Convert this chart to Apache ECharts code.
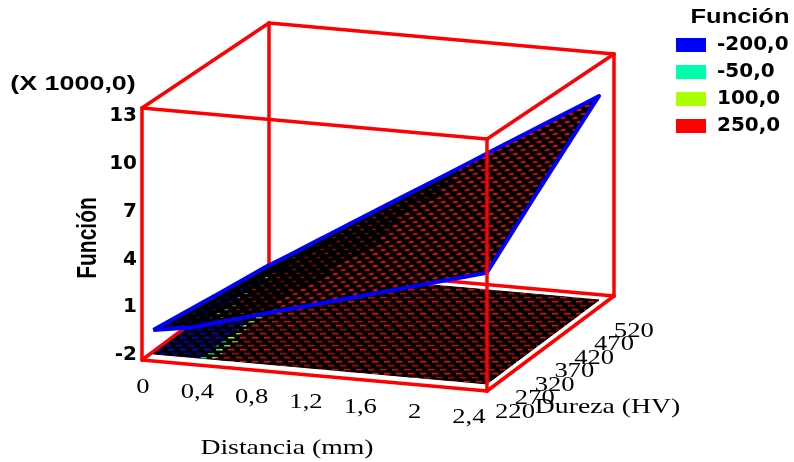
<!DOCTYPE html>
<html><head><meta charset="utf-8">
<style>html,body{margin:0;padding:0;background:#fff}#c{width:794px;height:462px}</style>
<script src="https://cdn.jsdelivr.net/npm/echarts@6/dist/echarts.min.js"></script>
</head><body><div id="c"></div>
<script>
// ---- data ----
const distanceTicks = ['0','0,4','0,8','1,2','1,6','2','2,4'];
const distanceTickValues = [0,0.4,0.8,1.2,1.6,2,2.4];
const hardnessTicks = [220,270,320,370,420,470,520];
const functionTicks = [-2,1,4,7,10,13];
const legendNames = ['-200,0','-50,0','100,0','250,0'];
const legendColors = ['#0000ff','#00ffaa','#aaff00','#ff0000'];
const bandLimits = [-0.125,0.025,0.175];   // thousands
const distances = [0.02,0.1,0.2,0.3,0.35,0.4,0.45,0.5,0.6,0.8,1.0,1.2,1.4,1.6,1.8,2.0,2.2,2.34];
const hardness = [240,300,350,400,450,505];
const z240 = [-0.57,-0.46,-0.33,-0.19,-0.06,0.07,0.19,0.31,0.54,1.01,1.48,1.95,2.42,2.89,3.36,3.83,4.30,4.63];
const z300 = [-0.85,-0.67,-0.45,-0.22,-0.06,0.10,0.26,0.41,0.71,1.32,1.92,2.53,3.13,3.74,4.35,4.95,5.56,5.98];
const z350 = [-1.09,-0.85,-0.55,-0.24,-0.06,0.13,0.31,0.49,0.85,1.57,2.29,3.01,3.73,4.45,5.17,5.89,6.61,7.12];
const z400 = [-1.33,-1.02,-0.65,-0.27,-0.05,0.16,0.37,0.58,0.99,1.83,2.66,3.49,4.32,5.16,5.99,6.83,7.66,8.25];
const z450 = [-1.56,-1.20,-0.75,-0.29,-0.05,0.19,0.42,0.66,1.13,2.08,3.02,3.97,4.91,5.87,6.81,7.76,8.70,9.37];
const z505 = [-1.82,-1.39,-0.86,-0.32,-0.05,0.22,0.48,0.75,1.29,2.36,3.43,4.50,5.57,6.65,7.72,8.79,9.86,10.62];
const zRows = [z240,z300,z350,z400,z450,z505];

const X_MIN=0,X_MAX=2.4,H_MIN=220,H_MAX=520,Z_MIN=-2,Z_MAX=13;

// oblique projection on top of the library's own x / z scales
function project(api,x,h,z){
  const p=api.coord([x,z]);
  const t=(h-H_MIN)/(H_MAX-H_MIN), u=(x-X_MIN)/(X_MAX-X_MIN), k=(z-Z_MIN)/(Z_MAX-Z_MIN);
  return [p[0]+127*t, p[1]+31*u-95*t+10*t*k];
}

// mesh-look textures
function tile(color,kind){
  const c=document.createElement('canvas');
  const W=kind==='dark'?24:12,H=12;
  c.width=W;c.height=H;
  const g=c.getContext('2d');
  g.fillStyle='#000';g.fillRect(0,0,W,H);
  g.fillStyle=color;
  const dash=(x,y,l,h,s)=>{g.beginPath();g.moveTo(x,y+h);g.lineTo(x+s,y);g.lineTo(x+s+l,y);g.lineTo(x+l,y+h);g.closePath();g.fill();};
  const rows=[[0,1],[4,5],[8,9]];
  rows.forEach(([ox,y],i)=>{
    const put=(l,h,s)=>{dash(ox,y,l,h,s);dash(ox-W,y,l,h,s);};
    if(kind==='floor'){ g.globalAlpha=[1,.7,.85][i]; put(6.5,1.5,0); }
    if(kind==='bright'){ g.globalAlpha=[1,.85,.95][i]; put(4.5,2,2); }
    if(kind==='mid'){ g.globalAlpha=[.75,.55,.65][i]; put(3.5,1.3,1); }
    if(kind==='dark'){ g.globalAlpha=.3; put(3,1.1,1); }
  });
  return c;
}
const patterns={};
legendColors.forEach(col=>{patterns[col]={};['floor','bright','mid','dark'].forEach(k=>{patterns[col][k]={image:tile(col,k),repeat:'repeat'};});});

function band(v){let i=0;while(i<bandLimits.length&&v>=bandLimits[i])i++;return i;}

// cells for each band
const cellsByBand=legendNames.map(()=>[]);
for(let j=0;j<hardness.length-1;j++){
  for(let i=0;i<distances.length-1;i++){
    const a=zRows[j][i],b=zRows[j][i+1],c=zRows[j+1][i+1],d=zRows[j+1][i];
    cellsByBand[band((a+b+c+d)/4)].push([distances[i],distances[i+1],hardness[j],hardness[j+1],a,b,c,d]);
  }
}
function area(p){let s=0;for(let i=0;i<4;i++){const q=p[(i+1)%4];s+=p[i][0]*q[1]-q[0]*p[i][1];}return Math.abs(s)/2;}

const cellSeries=legendNames.map((name,n)=>({
  name,type:'custom',coordinateSystem:'cartesian2d',xAxisIndex:0,yAxisIndex:0,
  silent:true,clip:false,z:2,animation:false,
  itemStyle:{color:legendColors[n]},
  data:cellsByBand[n],
  renderItem(params,api){
    const x0=api.value(0),x1=api.value(1),h0=api.value(2),h1=api.value(3);
    const zs=[api.value(4),api.value(5),api.value(6),api.value(7)];
    const col=legendColors[n];
    const fl=[[x0,h0],[x1,h0],[x1,h1],[x0,h1]].map(q=>project(api,q[0],q[1],Z_MIN));
    const su=[[x0,h0],[x1,h0],[x1,h1],[x0,h1]].map((q,i)=>project(api,q[0],q[1],zs[i]));
    const ratio=area(su)/((x1-x0)/2.4*(h1-h0)/300)/36712;
    const kind=ratio>0.85?'bright':(ratio>0.45?'mid':'dark');
    return {type:'group',children:[
      {type:'polygon',z2:1,shape:{points:fl},style:{fill:patterns[col].floor,stroke:patterns[col].floor,lineWidth:1}},
      {type:'polygon',z2:2,shape:{points:su},style:{fill:patterns[col][kind],stroke:patterns[col][kind],lineWidth:1}}
    ]};
  }
}));

// box edges: [x0,h0,z0,x1,h1,z1]
const backEdges=[
  [0,220,-2,0,520,-2],[0,520,-2,2.4,520,-2],[0,520,-2,0,520,13],[2.4,520,-2,2.4,520,13],[2.4,220,-2,2.4,520,-2],
  [0,520,13,2.4,520,13],[0,220,13,0,520,13],[2.4,220,13,2.4,520,13],[0,220,13,2.4,220,13],[0,220,-2,0,220,13],[0,220,-2,2.4,220,-2]
];
const frontEdges=[[2.4,220,-2,2.4,220,13]];
function edgeSeries(data,z){
  return {type:'custom',coordinateSystem:'cartesian2d',xAxisIndex:0,yAxisIndex:0,silent:true,clip:false,z,animation:false,data,
    renderItem(p,api){
      const a=project(api,api.value(0),api.value(1),api.value(2)),b=project(api,api.value(3),api.value(4),api.value(5));
      return {type:'line',shape:{x1:a[0],y1:a[1],x2:b[0],y2:b[1]},style:{stroke:'#ff0000',lineWidth:3.5,lineCap:'round'}};
    }};
}
// blue outline of the surface, taken from the matrix edges
const outline=[];
distances.forEach((x,i)=>outline.push([x,hardness[0],zRows[0][i]]));
hardness.forEach((h,j)=>outline.push([distances[distances.length-1],h,zRows[j][distances.length-1]]));
distances.slice().reverse().forEach((x,i)=>outline.push([x,hardness[hardness.length-1],zRows[hardness.length-1][distances.length-1-i]]));
hardness.slice().reverse().forEach((h,j)=>outline.push([distances[0],h,zRows[hardness.length-1-j][0]]));
const outlineSeries={type:'custom',coordinateSystem:'cartesian2d',xAxisIndex:0,yAxisIndex:0,silent:true,clip:false,z:3,animation:false,
  data:[[0]],
  renderItem(p,api){
    return {type:'polyline',shape:{points:outline.map(q=>project(api,q[0],q[1],q[2]))},style:{fill:'none',stroke:'#0000ff',lineWidth:4,lineJoin:'round'}};
  }};

const SERIF='"Liberation Serif"';
const SANS='"Liberation Sans"';
function txt(text,x,y,font,extra){
  return Object.assign({type:'text',x,y,style:{text:String(text),font,fill:'#000',textAlign:'center',textVerticalAlign:'middle'}},extra);
}
function tickText(text,x,y){ return txt(text,x,y,'22px '+SERIF,{scaleX:1.21}); }
const distanceLabels={type:'custom',coordinateSystem:'cartesian2d',xAxisIndex:0,yAxisIndex:0,silent:true,clip:false,z:5,animation:false,
  data:distanceTickValues.map((v,i)=>[v,i]),
  renderItem(p,api){const v=api.value(0);return tickText(distanceTicks[api.value(1)],143+135.8*v,387+12.5*v);}};
const hardnessLabels={type:'custom',coordinateSystem:'cartesian2d',xAxisIndex:0,yAxisIndex:0,silent:true,clip:false,z:5,animation:false,
  data:hardnessTicks.map(v=>[v]),
  renderItem(p,api){const k=(api.value(0)-220)/50;return tickText(api.value(0),515+19.8*k,412-13.5*k);}};

const chart=echarts.init(document.getElementById('c'),null,{renderer:'canvas'});
chart.setOption({
  animation:false,backgroundColor:'#fff',
  grid:[
    {left:142,top:108,width:345,height:252},
    {left:137,top:116,width:10,height:239}
  ],
  xAxis:[
    {type:'value',gridIndex:0,min:X_MIN,max:X_MAX,show:false},
    {type:'value',gridIndex:1,min:0,max:1,show:false}
  ],
  yAxis:[
    {type:'value',gridIndex:0,min:Z_MIN,max:Z_MAX,show:false},
    {type:'value',gridIndex:1,min:Z_MIN,max:Z_MAX,position:'left',
     axisLine:{show:false},axisTick:{show:false},splitLine:{show:false},
     axisLabel:{customValues:functionTicks,margin:0,color:'#000',fontFamily:'DejaVu Sans',fontWeight:'bold',fontSize:20}}
  ],
  legend:{orient:'vertical',left:676,top:35,padding:0,itemWidth:30,itemHeight:14,itemGap:7,selectedMode:false,icon:'rect',
    data:legendNames,
    textStyle:{color:'#000',fontFamily:'DejaVu Sans',fontWeight:'bold',fontSize:20,padding:[0,0,0,6]}},
  graphic:[
    txt('Función',740,17,'bold 21px '+SANS,{scaleX:1.21}),
    txt('(X 1000,0)',73,84,'bold 21px '+SANS,{scaleX:1.28}),
    txt('Función',88,238,'bold 21px '+SANS,{rotation:Math.PI/2,scaleY:1.3}),
    txt('Distancia (mm)',287,448,'22px '+SERIF,{scaleX:1.26}),
    txt('Dureza (HV)',607.5,407,'22px '+SERIF,{scaleX:1.26})
  ],
  series:[edgeSeries(backEdges,1),...cellSeries,outlineSeries,edgeSeries(frontEdges,4),distanceLabels,hardnessLabels]
});
</script></body></html>
